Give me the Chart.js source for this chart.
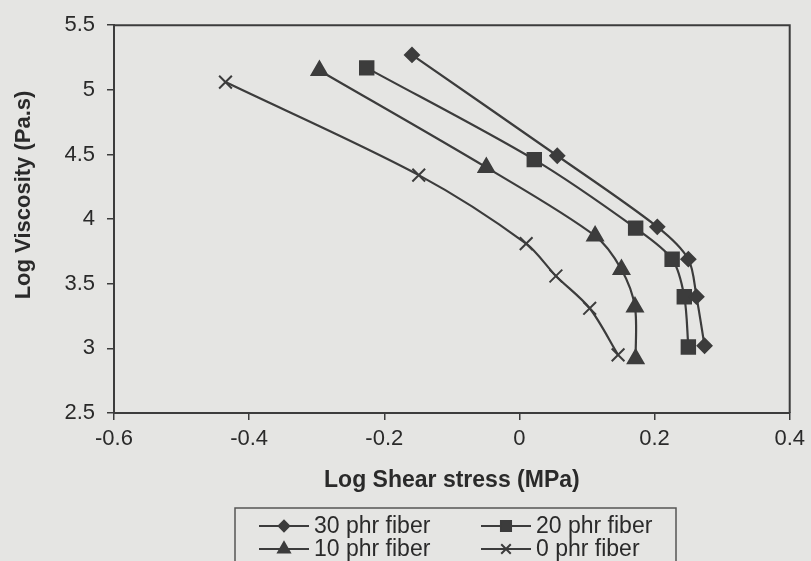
<!DOCTYPE html>
<html>
<head>
<meta charset="utf-8">
<script src="https://cdn.jsdelivr.net/npm/chart.js@4/dist/chart.umd.min.js"></script>
<style>
  html, body { margin: 0; padding: 0; background: #e5e5e3; }
  #wrap { width: 811px; height: 561px; position: relative; }
</style>
</head>
<body>
<div id="wrap"><canvas id="c" width="811" height="561"></canvas></div>
<script>
// ---- Data ----
const seriesLabels = ["30 phr fiber", "20 phr fiber", "10 phr fiber", "0 phr fiber"];
const x30 = [-0.159, 0.056, 0.204, 0.250, 0.262, 0.274];
const y30 = [5.27, 4.49, 3.94, 3.69, 3.40, 3.02];
const x20 = [-0.226, 0.022, 0.172, 0.226, 0.244, 0.250];
const y20 = [5.17, 4.46, 3.93, 3.69, 3.40, 3.01];
const x10 = [-0.296, -0.049, 0.112, 0.151, 0.171, 0.172];
const y10 = [5.15, 4.40, 3.87, 3.61, 3.32, 2.92];
const x0  = [-0.435, -0.149, 0.010, 0.054, 0.104, 0.146];
const y0  = [5.06, 4.34, 3.81, 3.56, 3.31, 2.95];
const xTicks = [-0.6, -0.4, -0.2, 0, 0.2, 0.4];
const yTicks = [2.5, 3, 3.5, 4, 4.5, 5, 5.5];
const xTitle = 'Log Shear stress (MPa)';
const yTitle = 'Log Viscosity (Pa.s)';

const INK = '#3c3c3c';
const TXT = '#2a2a2a';
const FONT = '"Liberation Sans", Arial, sans-serif';

function pts(xs, ys) { return xs.map((x, i) => ({ x: x, y: ys[i] })); }

const styles = [
  { pointStyle: 'rectRot', pointRadius: 7 },
  { pointStyle: 'rect', pointRadius: 9.5 },
  { pointStyle: 'triangle', pointRadius: 9 },
  { pointStyle: 'crossRot', pointRadius: 9 }
];
const xsAll = [x30, x20, x10, x0];
const ysAll = [y30, y20, y10, y0];

const datasets = seriesLabels.map((lab, i) => ({
  label: lab,
  data: pts(xsAll[i], ysAll[i]),
  borderColor: INK,
  backgroundColor: INK,
  borderWidth: 2.2,
  pointBorderWidth: 2,
  pointBorderColor: INK,
  pointBackgroundColor: INK,
  pointStyle: styles[i].pointStyle,
  pointRadius: styles[i].pointRadius,
  tension: 0.3,
  fill: false
}));

// frame on top/right of plot area + y title placed like the reference
const framePlugin = {
  id: 'frame',
  afterDatasetsDraw(chart) {
    const a = chart.chartArea, ctx = chart.ctx;
    ctx.save();
    ctx.strokeStyle = INK;
    ctx.lineWidth = 2;
    ctx.beginPath();
    ctx.moveTo(a.left, a.top);
    ctx.lineTo(a.right, a.top);
    ctx.lineTo(a.right, a.bottom);
    ctx.stroke();
    ctx.restore();
  },
  afterDraw(chart) {
    const ctx = chart.ctx;
    ctx.save();
    ctx.translate(24, 195);
    ctx.rotate(-Math.PI / 2);
    ctx.fillStyle = TXT;
    ctx.font = 'bold 22px ' + FONT;
    ctx.textAlign = 'center';
    ctx.textBaseline = 'middle';
    ctx.fillText(yTitle, 0, 0);
    ctx.restore();
  }
};

// legend drawn as line + marker, two columns
const legendPlugin = {
  id: 'boxLegend',
  afterDraw(chart) {
    const ctx = chart.ctx;
    ctx.save();
    ctx.strokeStyle = '#555';
    ctx.lineWidth = 1.5;
    ctx.strokeRect(235, 508, 441, 70);
    const cols = [259, 481];
    const rows = [526, 549];
    chart.data.datasets.forEach((ds, i) => {
      const cx = cols[i % 2], cy = rows[Math.floor(i / 2)];
      ctx.strokeStyle = INK;
      ctx.lineWidth = 2.2;
      ctx.beginPath();
      ctx.moveTo(cx, cy);
      ctx.lineTo(cx + 50, cy);
      ctx.stroke();
      ctx.fillStyle = INK;
      ctx.lineWidth = 2;
      Chart.helpers.drawPoint(ctx, {
        pointStyle: ds.pointStyle,
        radius: ds.pointRadius * 0.75,
        rotation: 0,
        borderWidth: 2
      }, cx + 25, cy);
      ctx.fillStyle = TXT;
      ctx.font = '23px ' + FONT;
      ctx.textAlign = 'left';
      ctx.textBaseline = 'middle';
      ctx.fillText(ds.label, cx + 55, cy + 1);
    });
    ctx.restore();
  }
};

new Chart(document.getElementById('c'), {
  type: 'line',
  data: { datasets: datasets },
  plugins: [framePlugin, legendPlugin],
  options: {
    responsive: false,
    animation: false,
    layout: { padding: { left: 0, top: 22, right: 17, bottom: 67 } },
    plugins: { legend: { display: false }, tooltip: { enabled: false } },
    scales: {
      x: {
        type: 'linear',
        min: -0.6, max: 0.4,
        afterBuildTicks(scale) { scale.ticks = xTicks.map(v => ({ value: v })); },
        afterFit(scale) { scale.height = 81; },
        border: { display: true, color: INK, width: 2 },
        grid: { drawOnChartArea: false, drawTicks: true, tickLength: 7, color: INK, lineWidth: 1.5 },
        ticks: {
          color: TXT, padding: 6,
          font: { family: FONT, size: 22 },
          callback: v => String(Math.round(v * 10) / 10)
        },
        title: {
          display: true, text: xTitle, color: TXT,
          font: { family: FONT, size: 23, weight: 'bold' },
          padding: { top: 4, bottom: 0 }
        }
      },
      y: {
        type: 'linear',
        min: 2.5, max: 5.5,
        afterBuildTicks(scale) { scale.ticks = yTicks.map(v => ({ value: v })); },
        afterFit(scale) { scale.width = 114; },
        border: { display: true, color: INK, width: 2 },
        grid: { drawOnChartArea: false, drawTicks: true, tickLength: 7, color: INK, lineWidth: 1.5 },
        ticks: {
          color: TXT, padding: 12,
          font: { family: FONT, size: 22 },
          callback: v => String(Math.round(v * 10) / 10)
        },
        title: { display: false }
      }
    }
  }
});
</script>
</body>
</html>
